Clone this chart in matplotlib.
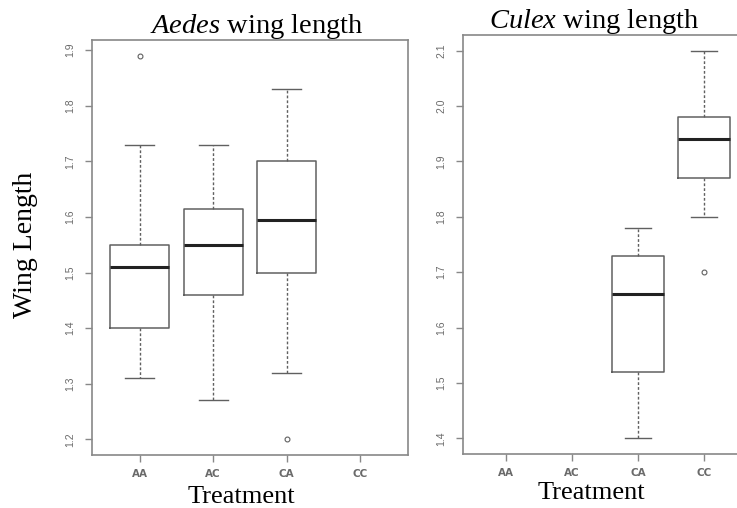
import matplotlib
matplotlib.use("Agg")
import matplotlib.pyplot as plt

# Datos (bigotes, cuartiles, mediana, atipicos)
tratamientos = ["AA", "AC", "CA", "CC"]

aedes_min = [1.31, 1.27, 1.32, None]
aedes_q1 = [1.40, 1.46, 1.50, None]
aedes_med = [1.51, 1.55, 1.595, None]
aedes_q3 = [1.55, 1.615, 1.70, None]
aedes_max = [1.73, 1.73, 1.83, None]
aedes_out = [[1.89], [], [1.20], []]

culex_min = [None, None, 1.40, 1.80]
culex_q1 = [None, None, 1.52, 1.87]
culex_med = [None, None, 1.66, 1.94]
culex_q3 = [None, None, 1.73, 1.98]
culex_max = [None, None, 1.78, 2.10]
culex_out = [[], [], [], [1.70]]

aedes_ticks = [1.2, 1.3, 1.4, 1.5, 1.6, 1.7, 1.8, 1.9]
culex_ticks = [1.4, 1.5, 1.6, 1.7, 1.8, 1.9, 2.0, 2.1]

plt.rcParams["mathtext.fontset"] = "custom"
plt.rcParams["mathtext.rm"] = "Liberation Serif"
plt.rcParams["mathtext.it"] = "Liberation Serif:italic"

gris = "#606060"


def dibujar(ax, mins, q1s, meds, q3s, maxs, outs, ticks, ylim):
    stats = []
    pos = []
    for i in range(len(tratamientos)):
        if meds[i] is None:
            continue
        stats.append(dict(whislo=mins[i], q1=q1s[i], med=meds[i], q3=q3s[i],
                          whishi=maxs[i], fliers=outs[i]))
        pos.append(i + 1)
    ax.bxp(stats, positions=pos, widths=0.8, showfliers=True,
           boxprops=dict(color=gris, linewidth=1.1),
           medianprops=dict(color="#222222", linewidth=2.2),
           whiskerprops=dict(color=gris, linewidth=1.0, linestyle=(0, (2, 1.5))),
           capprops=dict(color=gris, linewidth=1.0),
           flierprops=dict(marker="o", markersize=3.5, markerfacecolor="none",
                           markeredgecolor=gris, markeredgewidth=0.8))
    ax.set_xlim(0.35, 4.65)
    ax.set_ylim(*ylim)
    ax.set_xticks(range(1, len(tratamientos) + 1))
    ax.set_xticklabels(tratamientos)
    ax.set_yticks(ticks)
    ax.set_yticklabels([f"{t:.1f}" for t in ticks], rotation=90, va="center")
    for s in ax.spines.values():
        s.set_color("#888888")
        s.set_linewidth(1.2)
    ax.tick_params(colors="#888888", labelcolor="#6a6a6a", length=5,
                   width=1.0, direction="out")
    ax.tick_params(axis="y", labelsize=7.5, pad=7)
    ax.tick_params(axis="x", labelsize=7.5, pad=5)
    for lab in ax.get_xticklabels():
        lab.set_family("DejaVu Sans")
        lab.set_fontweight("bold")
    for lab in ax.get_yticklabels():
        lab.set_family("Liberation Sans")


fig = plt.figure(figsize=(7.37, 5.08), dpi=100)
ax1 = fig.add_axes([0.1248, 0.1043, 0.4288, 0.8170])
ax2 = fig.add_axes([0.6282, 0.1063, 0.3853, 0.8248])

dibujar(ax1, aedes_min, aedes_q1, aedes_med, aedes_q3, aedes_max, aedes_out,
        aedes_ticks, (1.172, 1.918))
dibujar(ax2, culex_min, culex_q1, culex_med, culex_q3, culex_max, culex_out,
        culex_ticks, (1.372, 2.128))

fig.text(0.3487, 0.935, r"$\it{Aedes}$ wing length", ha="center", va="baseline",
         fontsize=20.5, family="Liberation Serif")
fig.text(0.806, 0.945, r"$\it{Culex}$ wing length", ha="center", va="baseline",
         fontsize=20.5, family="Liberation Serif")

fig.text(0.327, 0.010, "Treatment", ha="center", va="baseline",
         fontsize=19, family="Liberation Serif")
fig.text(0.802, 0.018, "Treatment", ha="center", va="baseline",
         fontsize=19, family="Liberation Serif")

fig.text(0.035, 0.518, "Wing Length", rotation=90, ha="center", va="center",
         fontsize=20, family="Liberation Serif")

fig.savefig("out.png", dpi=100)
